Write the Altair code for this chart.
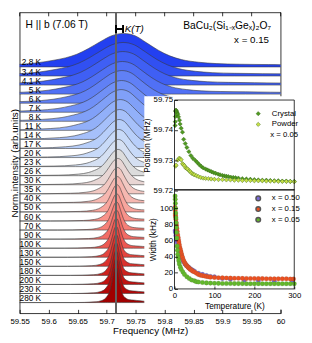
import altair as alt
import pandas as pd

# ---------------- main spectra (x = 0.15) ----------------
temps = ["2.8", "3.4", "4.1", "5", "6", "7", "8", "11", "14", "17", "20", "23", "26", "30",
         "35", "40", "50", "60", "70", "90", "100", "130", "150", "180", "200", "230", "280"]
shift_khz = [12.8, 12.3, 11.8, 11.0, 10.2, 9.5, 8.8, 7.4, 6.3, 5.4, 4.7, 4.1, 3.6, 3.1,
             2.6, 2.2, 1.7, 1.3, 1.0, 0.8, 0.6, 0.4, 0.3, 0.2, 0.1, 0.1, 0.0]
fwhm_khz = [100, 96, 91, 85, 79, 73, 68, 60, 52, 46, 41, 37, 34, 31,
            27, 25, 21, 19, 17, 16, 15, 14, 14, 13, 13, 13, 12]
amp_rows = [3.7, 3.7, 3.7, 3.6, 3.6, 3.5, 3.5, 3.4, 3.3, 3.2, 3.1, 3.0, 2.9, 2.9,
            2.9, 2.9, 3.0, 3.0, 3.1, 3.2, 3.3, 3.4, 3.5, 3.6, 3.7, 3.8, 3.9]
# normalised line profile (offset in FWHM units -> height)
profile_u = [-6.0, -3.0, -2.0, -1.5, -1.2, -1.0, -0.8, -0.6, -0.4, -0.2, 0.0,
             0.2, 0.4, 0.6, 0.8, 1.0, 1.3, 1.6, 2.0, 2.5, 3.0, 4.0, 6.0]
profile_v = [0.0, 0.02, 0.06, 0.12, 0.2, 0.27, 0.38, 0.55, 0.75, 0.93, 1.0,
             0.93, 0.72, 0.5, 0.33, 0.22, 0.14, 0.1, 0.08, 0.07, 0.06, 0.04, 0.0]
ref_freq = 59.716
freq_ticks = [59.55, 59.6, 59.65, 59.7, 59.75, 59.8, 59.85, 59.9, 59.95, 60.0]

palette = ["#2340f0", "#3150f2", "#3f5ff4", "#5070f5", "#6080f6", "#7090f7", "#80a0f8",
           "#92b0f9", "#a6c0fa", "#b8cffa", "#c8daf8", "#d5e0f2", "#dcdcdc", "#e8d6d4",
           "#f2c8c2", "#f6b7b0", "#f8a59d", "#f8928a", "#f67f77", "#f26c65", "#ec5852",
           "#e4453f", "#da322d", "#cd211d", "#c01311", "#b20808", "#a00000"]

# ---------------- inset: line position (x = 0.05) ----------------
cryst_T = [1.5, 2.0, 2.5, 3.0, 3.5, 4.1, 5, 6, 7, 8, 10, 12.5, 14, 16.7, 20, 23, 27, 31, 36,
           41, 46, 52, 57, 62, 67, 72, 78, 83, 88, 93, 98, 103, 109, 114, 120, 125, 130, 135,
           141, 147, 153, 160, 170, 180, 190, 200, 210, 220, 230, 240, 250, 260, 270, 280, 290, 300]
cryst_pos = [59.7415, 59.7428, 59.7445, 59.7462, 59.7466, 59.7465, 59.7462, 59.7458, 59.7455,
             59.7452, 59.7444, 59.7433, 59.7420, 59.7406, 59.7393, 59.7369, 59.7355, 59.7342,
             59.7328, 59.7315, 59.7306, 59.7299, 59.7292, 59.7285, 59.7279, 59.7274, 59.7270,
             59.7267, 59.7264, 59.7261, 59.7258, 59.7256, 59.7253, 59.7251, 59.7249, 59.7247,
             59.7246, 59.7245, 59.7243, 59.7242, 59.7241, 59.7240, 59.7238, 59.7237, 59.7236,
             59.7235, 59.7234, 59.7233, 59.7233, 59.7232, 59.7231, 59.7231, 59.7230, 59.7230,
             59.7229, 59.7229]
powd_T = [2.5, 4, 8, 11.7, 14, 16.7, 20, 22, 25, 28, 31, 33, 37, 40, 43, 47, 50, 55, 60, 66,
          72, 78, 85, 92, 100, 110, 120, 130, 140, 150, 160, 170, 180, 190, 200, 210, 220,
          230, 240, 250, 260, 270, 280, 290, 300]
powd_pos = [59.7280, 59.7283, 59.7300, 59.7306, 59.7304, 59.7301, 59.7288, 59.7285, 59.7281,
            59.7274, 59.7272, 59.7270, 59.7264, 59.7261, 59.7256, 59.7253, 59.7251, 59.7248,
            59.7245, 59.7242, 59.7240, 59.7239, 59.7238, 59.7237, 59.7236, 59.7235, 59.7235,
            59.7234, 59.7234, 59.7233, 59.7233, 59.7232, 59.7232, 59.7232, 59.7231, 59.7231,
            59.7231, 59.7230, 59.7230, 59.7230, 59.7229, 59.7229, 59.7229, 59.7229, 59.7228]

# ---------------- inset: line width ----------------
w50_T = [1.6, 2.4, 3.4, 4.5, 6, 8, 10, 12, 15, 18, 22, 26, 30, 35, 40, 45, 50, 60, 70, 80,
         90, 100, 120, 140, 175, 210, 250, 295]
w50_W = [72, 70, 66, 62, 58, 54, 50, 46, 42, 38, 34, 31, 29, 27, 25, 23.5, 22, 19.5, 18,
         16.5, 15.5, 15, 13, 12, 11, 10, 9.5, 9]
w15_T = [1.2, 1.6, 2.0, 2.4, 2.8, 3.4, 4.1, 5, 6, 7, 8, 9, 10, 11, 12, 13, 14, 15, 16, 17,
         18, 19, 20, 22, 24, 26, 28, 30, 32, 34, 36, 38, 40, 43, 46, 50, 55, 60, 65, 70, 75,
         80, 85, 90, 100, 110, 120, 130, 140, 150, 160, 170, 180, 190, 200, 210, 220, 230,
         240, 250, 260, 270, 280, 290, 298]
w15_W = [101, 97, 93, 91, 89, 86, 82, 79, 75, 71, 67, 64, 61, 58, 55, 52, 50, 48, 46, 44,
         42, 40, 39, 36, 34, 32, 30.5, 29, 28, 27, 26, 25, 24, 23, 22, 21, 19.5, 18, 17,
         16.5, 16, 15.5, 15, 14.6, 14.2, 13.9, 13.7, 13.5, 13.4, 13.3, 13.2, 13.1, 13.0,
         12.9, 12.9, 12.8, 12.8, 12.7, 12.7, 12.6, 12.6, 12.5, 12.5, 12.4, 12.4]
w05_T = [1.5, 1.8, 2.1, 2.5, 3, 3.5, 4, 4.5, 5, 5.7, 6.5, 7.3, 8.1, 9, 10.6, 12, 14.6, 17,
         21, 25, 31, 37, 43, 50, 55, 60, 70, 80, 90, 100, 110, 120, 130, 140, 150, 160, 170,
         180, 190, 200, 210, 220, 230, 240, 250, 260, 270, 280, 290, 300]
w05_W = [115, 111, 106, 100, 94, 88, 82, 76, 70, 63, 53, 48, 43, 39, 35, 31, 27, 24, 21, 18,
         15, 13, 11, 10, 9, 8.5, 8, 7.5, 7.2, 7, 6.9, 6.8, 6.7, 6.7, 6.6, 6.6, 6.6, 6.5,
         6.5, 6.5, 6.5, 6.5, 6.4, 6.4, 6.4, 6.4, 6.4, 6.4, 6.4, 6.4]

FONT = "Liberation Sans"

# ---------------- build tables ----------------
rows = []
n = len(temps)
for i, t in enumerate(temps):
    b = (n - 1) - i
    c = ref_freq + shift_khz[i] / 1000.0
    w = fwhm_khz[i] / 1000.0
    pts = [(59.0, 0.0)] + [(c + u * w, v) for u, v in zip(profile_u, profile_v)] + [(60.6, 0.0)]
    for f, v in pts:
        rows.append({"T": t, "order": i, "f": f, "y": b + amp_rows[i] * v, "y0": b})
spec = pd.DataFrame(rows)
labels = pd.DataFrame({"lab": [t + " K" for t in temps], "b": [(n - 1) - i for i in range(n)]})
ticks_df = pd.DataFrame({"f": freq_ticks})

W, H = 268, 309
OX = 159  # inset left edge inside the plot
xs = alt.Scale(domain=[59.55, 60.0], range=[0, W], nice=False, zero=False)
ys = alt.Scale(domain=[-1.1818, 32.016], range=[H, 0], nice=False, zero=False)

x_axis = alt.Axis(values=freq_ticks, tickCount=len(freq_ticks), format="~g", ticks=True,
                  tickSize=4, offset=-4, labelFlush=False,
                  tickColor="black", tickWidth=0.8, domain=False, grid=False,
                  labelOverlap=False, labelSeparation=0, orient="bottom",
                  labelFontSize=8, labelPadding=4, title="Frequency (MHz)",
                  titleFontSize=10, titleFontWeight="normal", titlePadding=1,
                  labelFont=FONT, titleFont=FONT, labelColor="black", titleColor="black")
y_axis = alt.Axis(labels=False, ticks=False, domain=False, grid=False, orient="left",
                  title="Norm.intensity (arb.units)", titleFontSize=10,
                  titleFontWeight="normal", titlePadding=0, titleFont=FONT, titleColor="black")

areas = alt.Chart(spec).mark_area(interpolate="monotone", stroke="#3a3a3a", strokeWidth=0.6,
                                  clip=True, fillOpacity=1).encode(
    x=alt.X("f:Q", scale=xs, axis=x_axis),
    y=alt.Y("y:Q", scale=ys, axis=y_axis, stack=None),
    y2="y0:Q",
    color=alt.Color("T:N", scale=alt.Scale(domain=temps, range=palette), legend=None),
    detail="order:O",
)
lab_layer = alt.Chart(labels).mark_text(align="right", baseline="alphabetic", dy=-1.5,
                                        fontSize=8.5, font=FONT, color="black").encode(
    x=alt.datum(59.587), y=alt.Y("b:Q", scale=ys), text="lab:N")
vline = alt.Chart(labels).mark_rule(color="#666666", strokeWidth=0.5).encode(x=alt.datum(ref_freq))
kt_h = alt.Chart(labels).mark_rule(color="black", strokeWidth=0.7).encode(
    x=alt.datum(ref_freq), x2=alt.datum(ref_freq + shift_khz[0] / 1000.0), y=alt.datum(30.19))
kt_l = alt.Chart(labels).mark_rule(color="black", strokeWidth=0.7).encode(
    x=alt.datum(ref_freq), y=alt.datum(30.62), y2=alt.datum(29.76))
kt_r = alt.Chart(labels).mark_rule(color="black", strokeWidth=0.7).encode(
    x=alt.datum(ref_freq + shift_khz[0] / 1000.0), y=alt.datum(30.62), y2=alt.datum(29.76))
top_ticks = alt.Chart(ticks_df).mark_rule(color="black", strokeWidth=0.8).encode(
    x=alt.X("f:Q", scale=xs), y=alt.value(0), y2=alt.value(4))
one = pd.DataFrame({"a": [0]})
t_field = alt.Chart(one).mark_text(text="H || b (7.06 T)", align="left", baseline="middle",
                                   fontSize=10.5, font=FONT, color="black").encode(
    x=alt.value(6), y=alt.value(13))
t_kt = alt.Chart(one).mark_text(text="K(T)", align="left", baseline="middle", fontSize=10,
                                fontStyle="italic", font=FONT, color="black").encode(
    x=alt.value(108), y=alt.value(17))
t_comp = alt.Chart(one).mark_text(text="BaCu₂(Si₁₋ₓGeₓ)₂O₇", align="right", baseline="middle",
                                  fontSize=10.5, font=FONT, color="black").encode(
    x=alt.value(258), y=alt.value(14))
t_x = alt.Chart(one).mark_text(text="x = 0.15", align="right", baseline="middle",
                               fontSize=10, font=FONT, color="black").encode(
    x=alt.value(256), y=alt.value(28))

main = alt.layer(areas, vline, lab_layer, kt_h, kt_l, kt_r, top_ticks,
                 t_field, t_kt, t_comp, t_x)

# ---------------- inset tables ----------------
pos_df = pd.DataFrame({"T": cryst_T + powd_T, "pos": cryst_pos + powd_pos,
                       "kind": ["Crystal"] * len(cryst_T) + ["Powder"] * len(powd_T)})
wid_df = pd.DataFrame({"T": w50_T + w15_T + w05_T, "W": w50_W + w15_W + w05_W,
                       "x": ["x = 0.50"] * len(w50_T) + ["x = 0.15"] * len(w15_T)
                       + ["x = 0.05"] * len(w05_T)})

ts = alt.Scale(domain=[0, 300], range=[OX, OX + 123], nice=False, zero=False)
ps = alt.Scale(domain=[59.72, 59.75], range=[182.5, 90], nice=False, zero=False)
wsc = alt.Scale(domain=[0, 123], range=[284, 182], nice=False, zero=False)

inset_axis = dict(ticks=True, tickSize=3, tickColor="black", tickWidth=0.8, domain=False,
                  grid=False, labelOverlap=False, labelFlush=False, zindex=1, labelFontSize=8,
                  labelFont=FONT, labelColor="black", titleFontSize=8.5, titleFont=FONT,
                  titleFontWeight="normal", titleColor="black")

bg = alt.Chart(one).mark_rect(color="white").encode(
    x=alt.value(OX - 31), x2=alt.value(OX + 131), y=alt.value(86), y2=alt.value(305))

pos_ticks = [59.72, 59.73, 59.74, 59.75]
pos_pts = alt.Chart(pos_df).mark_point(shape="diamond", filled=True, size=20, opacity=1,
                                       stroke="#2d5a10", strokeWidth=0.4).encode(
    x=alt.X("T:Q", scale=ts, axis=None),
    y=alt.Y("pos:Q", scale=ps, axis=alt.Axis(
        orient="left", values=pos_ticks, tickCount=len(pos_ticks), format=".2f",
        offset=-(OX + 3), labelPadding=2,
        title="Position (MHz)", titlePadding=2, **inset_axis)),
    color=alt.Color("kind:N", scale=alt.Scale(domain=["Crystal", "Powder"],
                                               range=["#4f9a20", "#c6df48"]),
                    legend=alt.Legend(orient="none", legendX=241, legendY=100, title="x = 0.05",
                                      titleOrient="bottom", titleAnchor="end",
                                      titleFontWeight="normal", titleFontSize=8, titleFont=FONT,
                                      labelFontSize=8, labelFont=FONT, symbolType="diamond",
                                      symbolSize=20, symbolStrokeColor="#2d5a10",
                                      symbolStrokeWidth=0.4, labelOffset=10, rowPadding=3,
                                      padding=0, titlePadding=3, labelColor="black",
                                      titleColor="black")),
)
pos_frame = alt.Chart(one).mark_rect(fillOpacity=0, stroke="black", strokeWidth=0.8).encode(
    x=alt.datum(0, scale=ts), x2=alt.datum(300), y=alt.datum(59.72, scale=ps), y2=alt.datum(59.75))
pos = alt.layer(bg, pos_pts, pos_frame)

t_ticks = [0, 100, 200, 300]
w_ticks = [0, 20, 40, 60, 80, 100]
wid_pts = alt.Chart(wid_df).mark_circle(size=22, opacity=1, stroke="#555555",
                                        strokeWidth=0.15).encode(
    x=alt.X("T:Q", scale=ts, axis=alt.Axis(
        orient="bottom", values=t_ticks, tickCount=len(t_ticks), offset=-28, labelPadding=3,
        title="Temperature (K)", titlePadding=2, **inset_axis)),
    y=alt.Y("W:Q", scale=wsc, axis=alt.Axis(
        orient="left", values=w_ticks, tickCount=len(w_ticks), offset=-(OX + 3),
        labelPadding=2, title="Width (kHz)", titlePadding=2, **inset_axis)),
    color=alt.Color("x:N", scale=alt.Scale(domain=["x = 0.50", "x = 0.15", "x = 0.05"],
                                           range=["#7a6ad8", "#ec5020", "#62b82a"]),
                    legend=alt.Legend(orient="none", legendX=241, legendY=187, title=None,
                                      labelFontSize=8, labelFont=FONT, symbolType="circle",
                                      symbolSize=22, labelOffset=10, rowPadding=-1, padding=0,
                                      labelColor="black")),
)
wid_frame = alt.Chart(one).mark_rect(fillOpacity=0, stroke="black", strokeWidth=0.8).encode(
    x=alt.datum(0, scale=ts), x2=alt.datum(300), y=alt.datum(0, scale=wsc), y2=alt.datum(123))
wid = alt.layer(wid_pts, wid_frame)

chart = alt.layer(main, pos, wid).resolve_scale(
    x="independent", y="independent", color="independent"
).properties(
    width=W, height=H, autosize=alt.AutoSizeParams(type="none"),
    padding={"left": 12, "top": 0, "right": 24, "bottom": 26}
).configure_view(stroke="black", strokeWidth=0.8).configure_axis(labelOverlap=False)

chart.save("out.html", embed_options={"renderer": "svg", "actions": False})
